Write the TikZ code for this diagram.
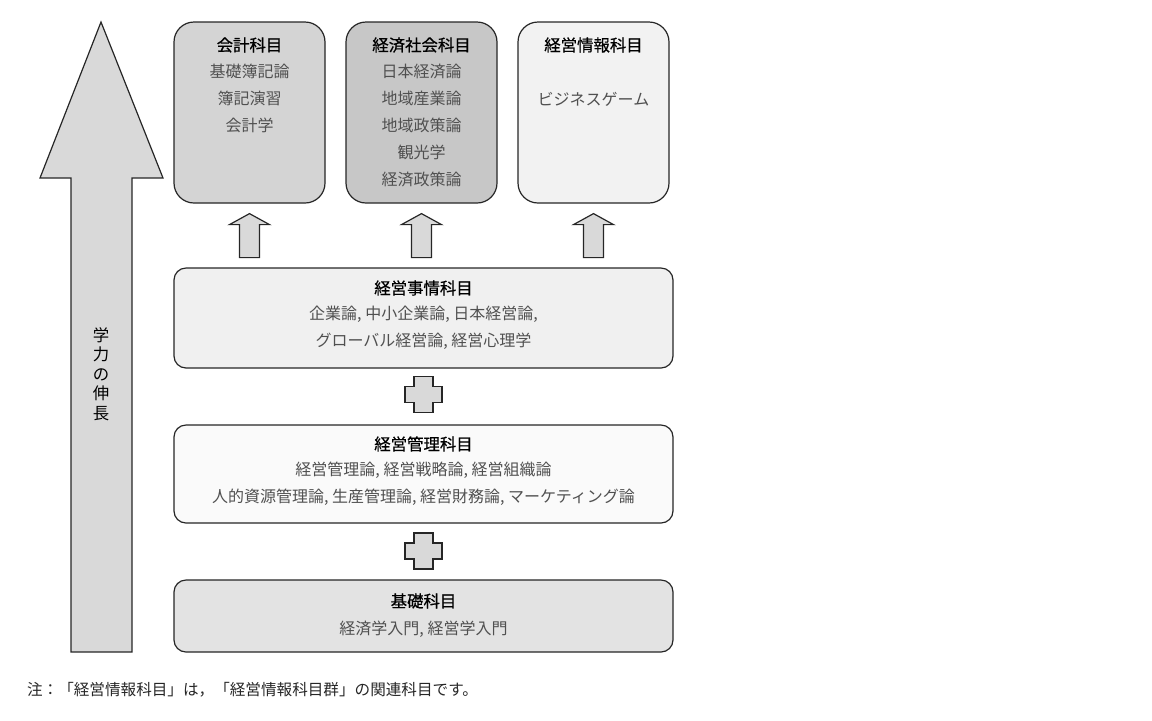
\documentclass[tikz,border=0pt]{standalone}
\usepackage{fontspec}
\usepackage{xcolor}
\newfontfamily\jpfont{Noto Sans CJK JP}
\newfontfamily\jptitle[FakeBold=0.6]{Noto Sans CJK JP}
\usetikzlibrary{positioning, calc}

\definecolor{arrowgray}{HTML}{D9D9D9}
\definecolor{subjgray}{HTML}{505050}

\begin{document}
\begin{tikzpicture}[x=0.5pt, y=-0.5pt,
  colbox/.style={draw=black!85, line width=0.6pt, rounded corners=10pt,
               minimum width=75.5pt, minimum height=90.5pt, inner sep=0pt},
  rowbox/.style={draw=black!85, line width=0.6pt, rounded corners=6pt,
               minimum width=249.5pt, inner sep=0pt},
  ttl/.style={font=\jptitle\fontsize{8.2}{13.5}\selectfont, text=black, inner sep=0pt},
  subj/.style={font=\jpfont\fontsize{8}{13.5}\selectfont, text=subjgray, align=center, inner sep=0pt},
  upshape/.style={fill=arrowgray, draw=black!85, line width=0.6pt, line join=miter},
]
  \useasboundingbox (0,0) rectangle (1152,720);

  % Growth arrow
  \draw[upshape] (101,22) -- (163,178) -- (132,178) -- (132,652)
    -- (71,652) -- (71,178) -- (40,178) -- cycle;
  \node[font=\jpfont\fontsize{8.2}{9.8}\selectfont, align=center] (growth) at (101,374)
    {学\\力\\の\\伸\\長};

  % Upper subject groups
  \node[colbox, fill=black!17] (kaikei) at (249.5,112.5) {};
  \node[colbox, fill=black!22] (keizai) at (421.5,112.5) {};
  \node[colbox, fill=black!5]  (joho)   at (593.5,112.5) {};

  \node[ttl] (kaikeiT) at (249.5,45) {会計科目};
  \node[subj, anchor=north] (kaikeiS) at (249.5,64) {基礎簿記論\\簿記演習\\会計学};
  \node[ttl] (keizaiT) at (421.5,45) {経済社会科目};
  \node[subj, anchor=north] (keizaiS) at (421.5,64)
    {日本経済論\\地域産業論\\地域政策論\\観光学\\経済政策論};
  \node[ttl] (johoT) at (593.5,45) {経営情報科目};
  \node[subj] (johoS) at (593.5,99) {ビジネスゲーム};

  % Lower rows
  \node[rowbox, fill=black!6, minimum height=50pt] (jijo)  at (423.5,318) {};
  \node[rowbox, fill=black!2, minimum height=49pt] (kanri) at (423.5,474) {};
  \node[rowbox, fill=black!11, minimum height=36pt] (kiso) at (423.5,616) {};

  \node[ttl] (jijoT) at (423.5,288) {経営事情科目};
  \node[subj, anchor=north] (jijoS) at (423.5,306)
    {企業論, 中小企業論, 日本経営論,\\グローバル経営論, 経営心理学};
  \node[ttl] (kanriT) at (423.5,444) {経営管理科目};
  \node[subj, anchor=north] (kanriS) at (423.5,462)
    {経営管理論, 経営戦略論, 経営組織論\\人的資源管理論, 生産管理論, 経営財務論, マーケティング論};
  \node[ttl] (kisoT) at (423.5,601) {基礎科目};
  \node[subj] (kisoS) at (423.5,629) {経済学入門, 経営学入門};

  % Small arrows and crosses
  \foreach \b in {kaikei,keizai,joho} {
    \draw[upshape] ($(\b.south)+(0,10)$) -- ++(20,11) -- ++(-10,0) -- ++(0,33)
      -- ++(-20,0) -- ++(0,-33) -- ++(-10,0) -- cycle;
  }
  \coordinate (plusA) at ($(jijo.south)!0.47!(kanri.north)$);
  \coordinate (plusB) at ($(kanri.south)!0.49!(kiso.north)$);
  \foreach \c in {plusA,plusB} {
    \draw[upshape] (\c) ++(-9.5,-18) -- ++(19,0) -- ++(0,10) -- ++(9,0) -- ++(0,16)
      -- ++(-9,0) -- ++(0,10) -- ++(-19,0) -- ++(0,-10) -- ++(-9,0) -- ++(0,-16)
      -- ++(9,0) -- cycle;
  }

  % Note
  \node[font=\jpfont\fontsize{7.8}{9}\selectfont, text=black!85, anchor=west] (note) at (20,690)
    {注：「経営情報科目」は，「経営情報科目群」の関連科目です。};
\end{tikzpicture}
\end{document}
